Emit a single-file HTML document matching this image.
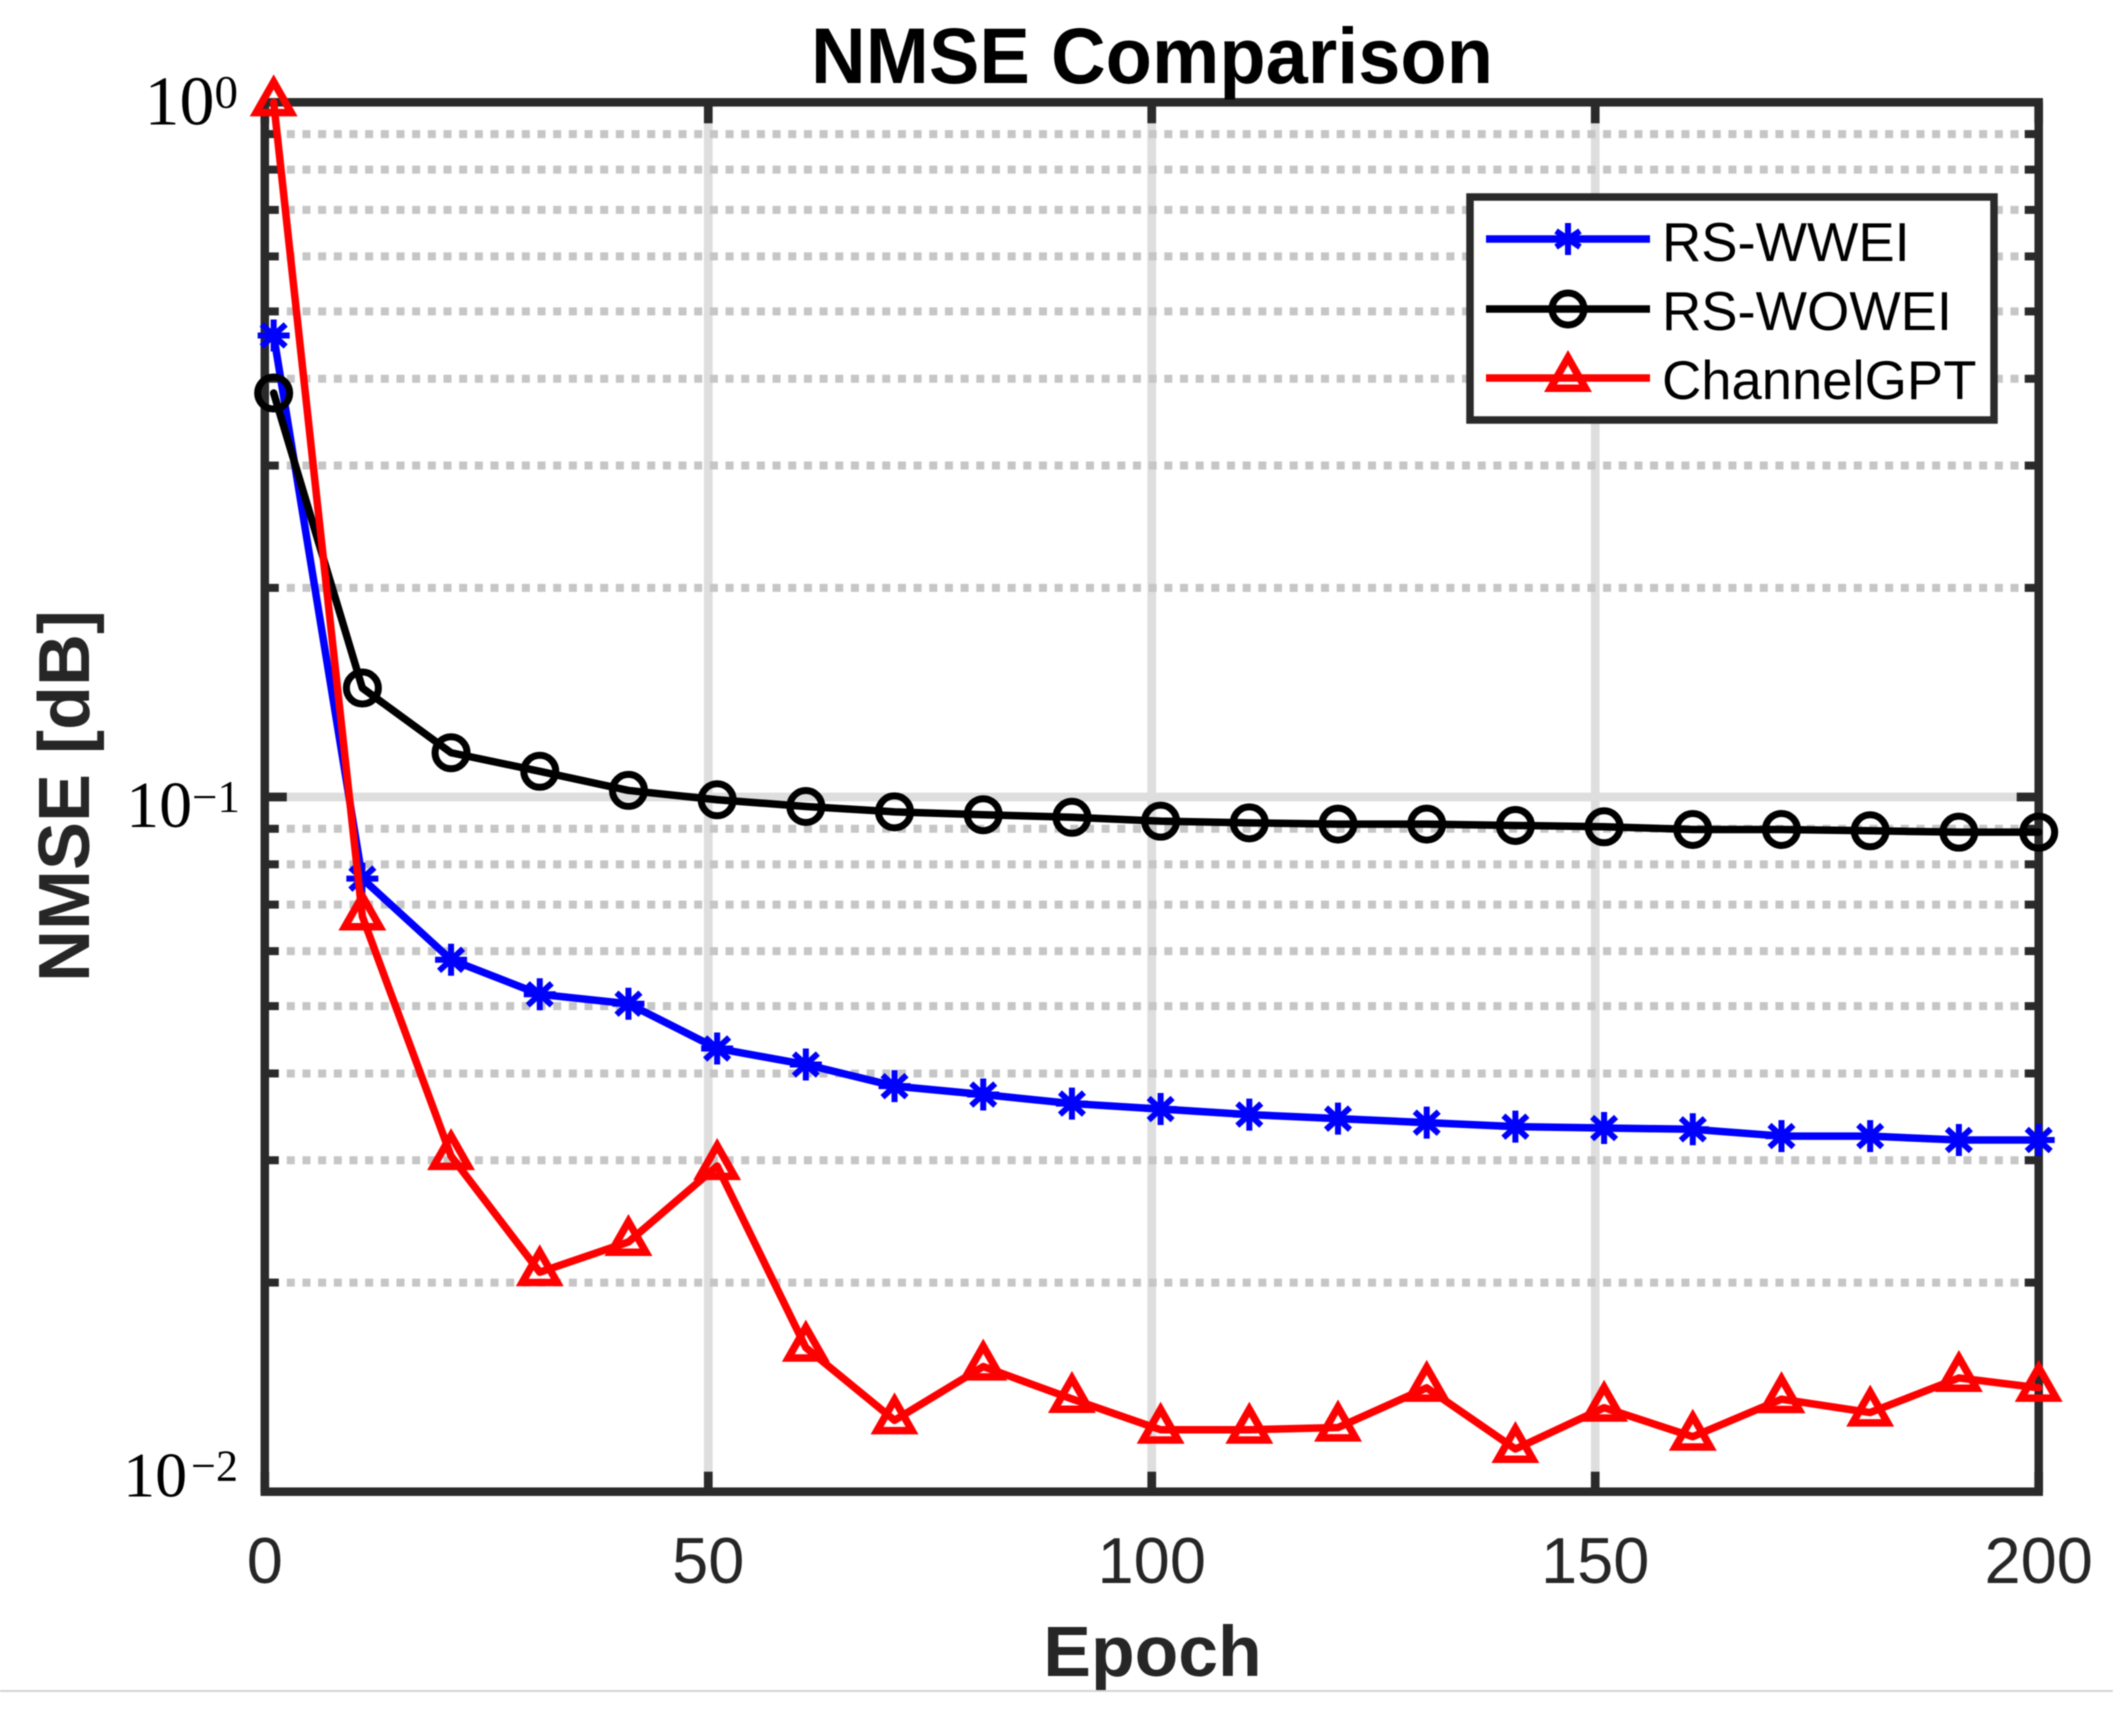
<!DOCTYPE html>
<html lang="en">
<head>
<meta charset="utf-8">
<title>NMSE Comparison</title>
<style>
html,body{margin:0;padding:0;background:#fff;width:2113px;height:1717px;overflow:hidden}
svg{display:block;filter:blur(0.5px)}
text{font-family:"Liberation Sans",sans-serif}
.serif{font-family:"Liberation Serif",serif}
</style>
</head>
<body>
<svg id="chart" width="2113" height="1717" viewBox="0 0 2113 1717" xmlns="http://www.w3.org/2000/svg">
  <rect x="0" y="0" width="2113" height="1717" fill="#ffffff"/>
  <g id="grid"></g>
  <g id="axes"></g>
  <g id="series"></g>
  <text x="1152" y="83" text-anchor="middle" font-size="79" font-weight="700" fill="#000000" textLength="682" lengthAdjust="spacingAndGlyphs">NMSE Comparison</text>
  <text x="1152.500" y="1676" text-anchor="middle" font-size="71.500" font-weight="700" fill="#262626">Epoch</text>
  <text transform="translate(89,796) rotate(-90)" text-anchor="middle" font-size="72" font-weight="700" fill="#262626">NMSE [dB]</text>
  <g>
    <rect x="1470" y="197" width="524" height="223" fill="#ffffff" stroke="#2a2a2a" stroke-width="7.5"/>
    <g>
      <line x1="1486" y1="239" x2="1650" y2="239" stroke="#0000ff" stroke-width="7.5"/>
      <path d="M1568 223V255M1556 231L1580 247M1556 247L1580 231" stroke="#0000ff" stroke-width="6" fill="none"/>
      <text x="1662" y="261" font-size="54.400" fill="#000">RS-WWEI</text>
    </g>
    <g>
      <line x1="1486" y1="309" x2="1650" y2="309" stroke="#000000" stroke-width="7.5"/>
      <circle cx="1568" cy="309" r="16" fill="none" stroke="#000000" stroke-width="7"/>
      <text x="1662" y="330" font-size="54.400" fill="#000">RS-WOWEI</text>
    </g>
    <g>
      <line x1="1486" y1="378" x2="1650" y2="378" stroke="#ff0000" stroke-width="7.5"/>
      <polygon points="1568,357.600 1585.500,388.300 1550.500,388.300" fill="none" stroke="#ff0000" stroke-width="7.5" stroke-miterlimit="10"/>
      <text x="1662" y="399" font-size="54.400" fill="#000">ChannelGPT</text>
    </g>
  </g>
  <rect x="0" y="1690" width="2113" height="2" fill="#d4d4d4"/>
</svg>
<script>
const epochs = [1,11,21,31,41,51,61,71,81,91,101,111,121,131,141,151,161,171,181,191,200];
const rsWwei = [0.4617,0.0763,0.0583,0.0520,0.0504,0.04345,0.0412,0.03835,0.0373,0.0362,0.03555,0.0349,0.03444,0.03398,0.03353,0.03338,0.03324,0.0325,0.0325,0.03208,0.03208];
const rsWowei = [0.3815,0.1435,0.1158,0.1089,0.1022,0.0991,0.0969,0.0952,0.0943,0.0935,0.0923,0.0918,0.0914,0.0914,0.091,0.0906,0.0898,0.0898,0.0894,0.089,0.089];
const channelGpt = [1.0,0.0673,0.03042,0.0207,0.02288,0.02943,0.01612,0.01267,0.01514,0.0136,0.01228,0.01228,0.01237,0.01411,0.01152,0.01321,0.012,0.01359,0.013,0.01458,0.01411];
const xTicks = [0,50,100,150,200];
const xTickLabels = ["0","50","100","150","200"];
const yMajorTicks = [1,0.1,0.01];
const yExponents = ["0","\u22121","\u22122"];
const yMinorTicks = [0.9,0.8,0.7,0.6,0.5,0.4,0.3,0.2,0.09,0.08,0.07,0.06,0.05,0.04,0.03,0.02];

const NS = "http://www.w3.org/2000/svg";
const plotLeft = 264.8, plotRight = 2038.7, plotTop = 102.3, plotBottom = 1491.7;
const xMin = 0, xMax = 200, yMinLog = -2, yMaxLog = 0;
const axisColor = "#2a2a2a";
function xScale(v){ return plotLeft + (v - xMin) / (xMax - xMin) * (plotRight - plotLeft); }
function yScale(v){ return plotTop + (yMaxLog - Math.log10(v)) / (yMaxLog - yMinLog) * (plotBottom - plotTop); }
function make(tag, attrs, parent){
  const el = document.createElementNS(NS, tag);
  for (const k in attrs) el.setAttribute(k, attrs[k]);
  parent.appendChild(el);
  return el;
}
const gridG = document.getElementById("grid");
const axesG = document.getElementById("axes");
const seriesG = document.getElementById("series");

xTicks.slice(1, -1).forEach(function(t){
  const el = make("line", {x1:xScale(t), x2:xScale(t), y1:plotTop, y2:plotBottom, stroke:"#dedede", "stroke-width":8.7}, gridG);
  
  
});
yMajorTicks.slice(1, -1).forEach(function(t){
  const el = make("line", {x1:plotLeft, x2:plotRight, y1:yScale(t), y2:yScale(t), stroke:"#dedede", "stroke-width":8.7}, gridG);
  
  
});
yMinorTicks.forEach(function(t){
  const el = make("line", {x1:plotLeft+22, x2:plotRight-14, y1:yScale(t), y2:yScale(t), stroke:"#c6c6c6", "stroke-width":8, "stroke-dasharray":"8 7.67"}, gridG);
  
  
});

const frame = make("rect", {x:plotLeft, y:plotTop, width:plotRight-plotLeft, height:plotBottom-plotTop, fill:"none", stroke:axisColor, "stroke-width":8.5}, axesG);



xTicks.forEach(function(t, i){
  const x = xScale(t);
  const bottomTick = make("line", {x1:x, x2:x, y1:plotBottom, y2:plotBottom-20, stroke:axisColor, "stroke-width":8.7}, axesG);
  
  
  const topTick = make("line", {x1:x, x2:x, y1:plotTop, y2:plotTop+21, stroke:axisColor, "stroke-width":8.7}, axesG);
  
  
  const label = make("text", {x:x, y:1583, "text-anchor":"middle", "font-size":65, fill:"#262626"}, axesG);
  
  
  label.textContent = xTickLabels[i];
});

yMinorTicks.forEach(function(t){
  const y = yScale(t);
  const leftTick = make("line", {x1:plotLeft, x2:plotLeft+14, y1:y, y2:y, stroke:axisColor, "stroke-width":8}, axesG);
  
  
  const rightTick = make("line", {x1:plotRight, x2:plotRight-14, y1:y, y2:y, stroke:axisColor, "stroke-width":8}, axesG);
  
  
});
yMajorTicks.slice(1, -1).forEach(function(t){
  const y = yScale(t);
  const leftTick = make("line", {x1:plotLeft, x2:plotLeft+22, y1:y, y2:y, stroke:axisColor, "stroke-width":8.7}, axesG);
  
  
  const rightTick = make("line", {x1:plotRight, x2:plotRight-22, y1:y, y2:y, stroke:axisColor, "stroke-width":8.7}, axesG);
  
  
});

function decadeLabelStyle(t){
  const d = Math.round(Math.log10(t));
  if (d >= yMaxLog) return {shift:22, size:70, supSize:47, rise:-17, end:238, gap:0};
  if (d <= yMinLog) return {shift:5, size:64, supSize:44, rise:-16, end:238, gap:4};
  return {shift:30, size:66, supSize:45, rise:-15, end:240, gap:0};
}
yMajorTicks.forEach(function(t, i){
  const s = decadeLabelStyle(t);
  const label = make("text", {x:s.end, y:yScale(t)+s.shift, "text-anchor":"end", "font-size":s.size, fill:"#000", "class":"serif"}, axesG);
  
  
  make("tspan", {}, label).textContent = "10";
  make("tspan", {dy:s.rise, dx:s.gap, "font-size":s.supSize}, label).textContent = yExponents[i];
});

function polyline(values, color, name){
  const pts = values.map(function(v, i){ return xScale(epochs[i]) + "," + yScale(v); }).join(" ");
  const el = make("polyline", {points:pts, fill:"none", stroke:color, "stroke-width":7.5, "stroke-linejoin":"round", "stroke-linecap":"round"}, seriesG);
  
  
}
function asteriskMarker(x, y, color){
  const d = "M"+x+" "+(y-16)+"V"+(y+16)+"M"+(x-16)+" "+y+"H"+(x+16)+"M"+(x-12)+" "+(y-11)+"L"+(x+12)+" "+(y+11)+"M"+(x-12)+" "+(y+11)+"L"+(x+12)+" "+(y-11);
  const el = make("path", {d:d, stroke:color, "stroke-width":6, fill:"none"}, seriesG);
  
  
}
function circleMarker(x, y, color){
  const el = make("circle", {cx:x, cy:y, r:16, stroke:color, "stroke-width":7, fill:"none"}, seriesG);
  
  
}
function triangleMarker(x, y, color){
  const pts = x+","+(y-20.4)+" "+(x+17.5)+","+(y+10.3)+" "+(x-17.5)+","+(y+10.3);
  const el = make("polygon", {points:pts, stroke:color, "stroke-width":7.5, "stroke-miterlimit":10, fill:"none"}, seriesG);
  
  
}

polyline(rsWwei, "#0000ff", "rs-wwei-line");
rsWwei.forEach(function(v, i){ asteriskMarker(xScale(epochs[i]), yScale(v), "#0000ff"); });
polyline(rsWowei, "#000000", "rs-wowei-line");
rsWowei.forEach(function(v, i){ circleMarker(xScale(epochs[i]), yScale(v), "#000000"); });
polyline(channelGpt, "#ff0000", "channelgpt-line");
channelGpt.forEach(function(v, i){ triangleMarker(xScale(epochs[i]), yScale(v), "#ff0000"); });
</script>
</body>
</html>
